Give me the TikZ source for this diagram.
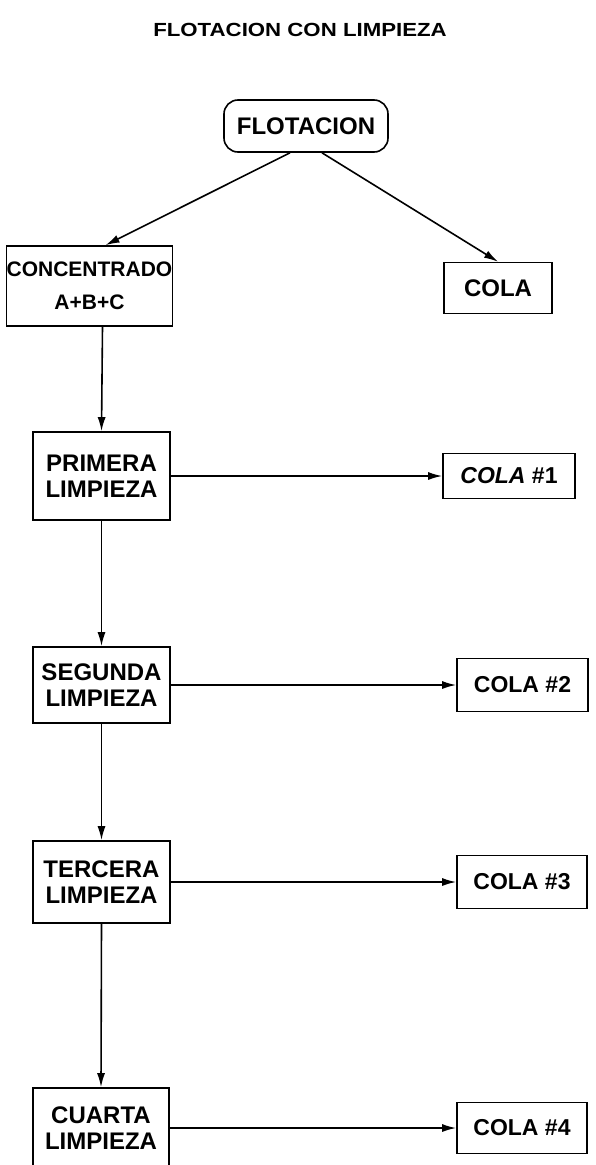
\documentclass[tikz,border=0pt]{standalone}
\usepackage{fontspec}
\setmainfont{Liberation Sans}
\usetikzlibrary{arrows.meta}
\begin{document}
\begin{tikzpicture}[x=1pt,y=-1pt,
  box/.style={draw, line width=1.6pt, align=center, inner sep=0pt,
    font=\bfseries\fontsize{24}{26}\selectfont},
  colabox/.style={draw, line width=1.6pt, align=center, inner sep=0pt,
    font=\bfseries\fontsize{23}{25}\selectfont},
  arr/.style={line width=1.6pt, -{Latex[length=14pt,width=8pt]}}]
\useasboundingbox (0,0) rectangle (595,1165);
\clip (0,0) rectangle (595,1165);
\node[font=\bfseries\fontsize{19}{21}\selectfont] (title) at (300,30)
  {\scalebox{1.17}[1]{FLOTACION CON LIMPIEZA}};
\node[box, rounded corners=14pt, minimum width=164pt, minimum height=52pt] (flot) at (306,126) {FLOTACION};
\node[box, minimum width=165pt, minimum height=80pt, font=\bfseries\fontsize{21}{33}\selectfont] (conc) at (89.5,286) {CONCENTRADO\\A+B+C};
\node[colabox, font=\bfseries\fontsize{24}{26}\selectfont, minimum width=108pt, minimum height=51pt] (cola) at (498,288) {COLA};
\node[box, minimum width=137pt, minimum height=88pt] (prim) at (101.5,476) {PRIMERA\\LIMPIEZA};
\node[colabox, minimum width=132pt, minimum height=45pt] (c1) at (509,476) {\textit{COLA} \#1};
\node[box, minimum width=137pt, minimum height=76pt] (seg) at (101.5,685) {SEGUNDA\\LIMPIEZA};
\node[colabox, minimum width=131pt, minimum height=53pt] (c2) at (522.5,685) {COLA \#2};
\node[box, minimum width=137pt, minimum height=82pt] (ter) at (101.5,882) {TERCERA\\LIMPIEZA};
\node[colabox, minimum width=130pt, minimum height=53pt] (c3) at (522,882) {COLA \#3};
\node[box, minimum width=136pt, minimum height=80pt] (cua) at (101,1128) {CUARTA\\LIMPIEZA};
\node[colabox, minimum width=130pt, minimum height=51pt] (c4) at (522,1128) {COLA \#4};
\draw[arr] ([xshift=-16pt]flot.south) -- ([xshift=16pt]conc.north);
\draw[arr] ([xshift=16pt]flot.south) -- (cola.north);
\draw[arr] ([xshift=13pt]conc.south) -- (prim.north);
\draw[arr] (prim.south) -- (seg.north);
\draw[arr] (seg.south) -- (ter.north);
\draw[arr] (ter.south) -- (cua.north);
\draw[arr] (prim.east) -- (c1.west);
\draw[arr] (seg.east) -- (c2.west);
\draw[arr] (ter.east) -- (c3.west);
\draw[arr] (cua.east) -- (c4.west);
\end{tikzpicture}
\end{document}
